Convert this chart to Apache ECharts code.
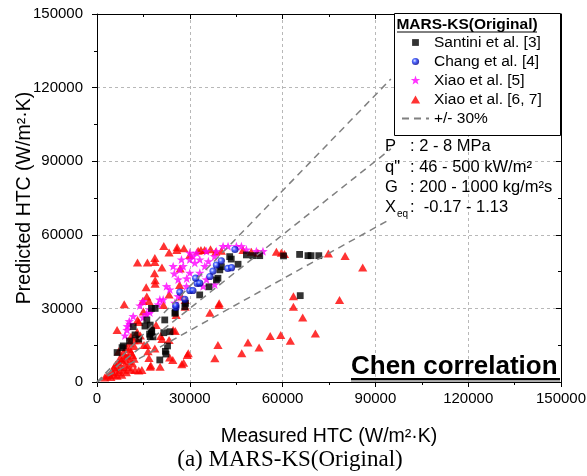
<!DOCTYPE html>
<html><head><meta charset="utf-8">
<script src="https://cdn.jsdelivr.net/npm/echarts@6/dist/echarts.min.js"></script>
<style>html,body{margin:0;padding:0;background:#fff}#c{width:587px;height:476px}</style>
</head><body><div id="c"></div>
<script>
// ---------------- data (W/m2K) ----------------
const santini = [[8500,14700],[8100,14000],[10500,16700],[11700,22550],[15500,22800],[16100,25300],[17600,30000],[17200,23200],[17600,21000],[18100,18400],[17000,19500],[18800,30000],[21900,25300],[21600,20100],[23600,20500],[22800,14700],[22300,11400],[22100,12500],[20300,9000],[25200,28000],[25300,28400],[28600,32050],[28400,30700],[33200,35500],[36200,38800],[38600,41600],[39100,42300],[39700,45700],[40200,47000],[42900,51100],[43400,50100],[45600,48000],[48300,51800],[50400,51500],[52600,51500],[60300,51400],[65500,52000],[68200,51500],[69200,51500],[71700,51500],[65700,35200],[12300,19200],[17200,18500],[17700,20500],[6500,12000],[13500,17500]];
const chang = [[25500,30400],[25500,31200],[26800,36600],[28400,33700],[30000,37300],[31000,37300],[32400,40200],[31900,42300],[33200,40300],[36500,43000],[37500,45200],[38600,47700],[40200,49400],[42300,46300],[43500,46600],[44600,54000]];
const xiao5 = [[9030,18750],[9780,22550],[10420,24580],[9700,21000],[10600,23500],[11700,26600],[13870,30980],[14940,32740],[14900,26100],[16000,27500],[17100,28100],[17100,29300],[19800,31400],[20320,33420],[21400,33400],[22480,38840],[23550,37500],[26230,41580],[26780,45650],[27850,47010],[24620,47010],[27310,49730],[30000,49730],[31610,48370],[33230,49730],[34840,47010],[30000,52450],[32160,52450],[31070,51080],[35390,53110],[38610,53110],[40760,55150],[42370,55150],[45070,55150],[46680,55150],[48290,53800],[51520,53110],[53650,53110],[30000,44300],[33230,44300],[35390,41580],[38060,39540],[34300,38840],[28930,38840],[26230,34770],[25160,32050],[29000,42000],[36000,49000],[38000,51000],[25000,44000]];
const xiao67 = [[21600,55400],[23300,52800],[25900,54900],[28100,54500],[30000,51800],[32700,53500],[34800,53800],[36700,54100],[38400,53100],[40200,53500],[47200,53800],[49900,53100],[52000,52700],[58000,53100],[59600,52700],[60600,52200],[74800,52400],[80200,51400],[85900,46700],[25800,53800],[33600,53800],
[13100,48700],[16300,48700],[18700,48900],[18700,50500],[21000,46700],[18600,44300],[18800,40000],[18800,41500],[15900,38600],[16100,34800],[14800,33000],[16800,33000],[8800,31700],[26900,46300],[26700,39500],[23300,35700],[28500,33400],[21500,31400],[27300,34800],[39500,32100],[36500,28200],[39400,31400],
[6500,21200],[13100,25300],[13500,24500],[15000,28700],[19100,23200],[20600,18700],[21000,17500],[25300,20800],[25600,27300],[24600,21200],[13000,20400],[14000,19000],[13500,17000],[15200,15100],[12000,14700],[10500,13500],[11000,12000],[9000,11000],[7400,9700],[16100,15100],[16500,12500],[16800,9800],[12300,4900],[13500,4700],[14500,4900],[17200,6200],[20400,6200],[24500,9000],[29200,11000],[29500,11700],[27400,7200],[28500,30700],[23300,17100],[18700,13700],[23500,10000],[28000,7800],[17400,6700],[39100,15100],[38100,9700],[48800,16100],[46800,11700],[52400,14100],[56000,18700],[59400,19200],[62500,16800],[63500,30700],[66500,26300],[63500,35000],[78400,33400],[70600,19800],
[2500,1800],[3200,2500],[4000,3000],[4500,2000],[5000,4000],[5500,3000],[6000,5000],[6500,2500],[7000,4000],[7500,6000],[8000,3000],[8500,5000],[9000,7000],[9500,4000],[10000,6000],[10500,8500],[11000,5000],[11500,7500],[12000,9500],[6000,7000],[7000,8000],[8000,9000],[5500,6000],[9000,9500],[8500,12000],[10000,10500],[11500,11000],[7000,12500],[9500,14000],[10500,16000],[11000,18500],[12000,17000]];
const refUpper = [[0,0],[95000,123500]];
const refMid = [[0,0],[95000,95000]];
const refLower = [[0,0],[95000,66500]];
const seriesNames = ['Santini et al. [3]','Chang et al. [4]','Xiao et al. [5]','Xiao et al. [6, 7]','+/- 30%'];
const axisMin = 0, axisMax = 150000, axisStep = 30000;

// ---------------- styling ----------------
const FF = 'Liberation Sans, Arial, sans-serif';
const SQ = 'path://M0 0M10 10M1.6 1.6L8.4 1.6L8.4 8.4L1.6 8.4Z';
const CI = 'path://M0 0M10 10M8.6 5A3.6 3.6 0 1 1 1.4 5A3.6 3.6 0 1 1 8.6 5Z';
const ST = 'path://M0 0M10 10M5 0L6.18 3.38L9.76 3.45L6.9 5.62L7.94 9.05L5 7L2.06 9.05L3.1 5.62L0.24 3.45L3.82 3.38Z';
const TR = 'path://M0 0M10 10M5 1L9.6 9L0.4 9Z';
const sphere = {type:'radial', x:0.42, y:0.42, r:0.42, colorStops:[{offset:0,color:'#dfe6ff'},{offset:0.45,color:'#2040ff'},{offset:1,color:'#000090'}]};
const refLine = {color:'#808080', width:1.5, type:[7,5]};

function mkX(pos, main){
  return {type:'value', min:axisMin, max:axisMax, interval:axisStep, position:pos,
    axisLine:{show:true, onZero:false, lineStyle:{color:'#000', width:1}},
    axisTick:{show:true, inside:!main, length:5, lineStyle:{color:'#000'}},
    minorTick:{show:true, splitNumber:2, length:3, lineStyle:{color:'#000'}},
    axisLabel:{show:main, color:'#000', fontSize:15, fontFamily:FF, margin:9, formatter:function(v){return String(v);}},
    splitLine:{show:main, lineStyle:{color:'#b8b8b8', type:[3,3], width:1}},
    minorSplitLine:{show:false}};
}
const xMain = mkX('bottom', true);
xMain.name = 'Measured HTC (W/m²·K)'; xMain.nameLocation='middle'; xMain.nameGap=45;
xMain.nameMoveOverlap = false;
xMain.nameTextStyle = {color:'#000', fontSize:19.5, fontFamily:FF};
const yMain = mkX('left', true);
yMain.axisLabel.margin = 14;
yMain.name = 'Predicted HTC (W/m²·K)'; yMain.nameLocation='middle'; yMain.nameGap=62;
yMain.nameMoveOverlap = false;
yMain.nameTextStyle = {color:'#000', fontSize:19.5, fontFamily:FF};

const chart = echarts.init(document.getElementById('c'), null, {renderer:'canvas'});
chart.setOption({
  animation:false,
  backgroundColor:'#fff',
  grid:{left:97, right:26, top:14, bottom:94, containLabel:false, outerBoundsMode:'none'},
  xAxis:[xMain, mkX('top', false)],
  yAxis:[yMain, mkX('right', false)],
  legend:{orient:'vertical', left:401, top:33, itemWidth:27, itemHeight:10, itemGap:0, padding:0,
    selectedMode:false, z:10,
    data:[seriesNames[0], seriesNames[1], seriesNames[2], seriesNames[3],
      {name:seriesNames[4], itemStyle:{color:'rgba(0,0,0,0)', borderWidth:0, opacity:0}}],
    textStyle:{color:'#000', fontSize:15.5, fontFamily:FF, lineHeight:19}},
  series:[
    {name:seriesNames[3], type:'scatter', data:xiao67, symbol:TR, symbolSize:10, itemStyle:{color:'#ff0000'}, z:2},
    {name:seriesNames[2], type:'scatter', data:xiao5, symbol:ST, symbolSize:10, itemStyle:{color:'#ff00ff'}, z:2},
    {name:seriesNames[0], type:'scatter', data:santini, symbol:SQ, symbolSize:10, itemStyle:{color:'#000'}, z:2},
    {name:seriesNames[1], type:'scatter', data:chang, symbol:CI, symbolSize:10, itemStyle:{color:sphere}, z:2},
    {name:seriesNames[4], type:'line', data:refUpper, symbol:'none', lineStyle:refLine, itemStyle:{color:'#808080'}, z:3, silent:true},
    {name:seriesNames[4], type:'line', data:refMid, symbol:'none', lineStyle:refLine, itemStyle:{color:'#808080'}, z:3, silent:true},
    {name:seriesNames[4], type:'line', data:refLower, symbol:'none', lineStyle:refLine, itemStyle:{color:'#808080'}, z:3, silent:true}
  ],
  graphic:[
    {type:'rect', z:8, shape:{x:394.5, y:13.5, width:166, height:122}, style:{fill:'#fff', stroke:'#000', lineWidth:1}},
    {type:'text', z:11, x:467, y:25, style:{text:'MARS-KS(Original)', font:'bold 15.5px '+FF, fill:'#000', align:'center', verticalAlign:'middle'}},
    {type:'line', z:11, shape:{x1:397, y1:32, x2:537, y2:32}, style:{stroke:'#000', lineWidth:1}},
    {type:'text', z:11, x:385, y:146, style:{text:'P', font:'16.5px '+FF, fill:'#000', verticalAlign:'middle'}},
    {type:'text', z:11, x:410, y:146, style:{text:': 2 - 8 MPa', font:'16.5px '+FF, fill:'#000', verticalAlign:'middle'}},
    {type:'text', z:11, x:385, y:167, style:{text:'q"', font:'16.5px '+FF, fill:'#000', verticalAlign:'middle'}},
    {type:'text', z:11, x:410, y:167, style:{text:': 46 - 500 kW/m²', font:'16.5px '+FF, fill:'#000', verticalAlign:'middle'}},
    {type:'text', z:11, x:385, y:187, style:{text:'G', font:'16.5px '+FF, fill:'#000', verticalAlign:'middle'}},
    {type:'text', z:11, x:410, y:187, style:{text:': 200 - 1000 kg/m²s', font:'16.5px '+FF, fill:'#000', verticalAlign:'middle'}},
    {type:'text', z:11, x:385, y:207, style:{text:'X', font:'16.5px '+FF, fill:'#000', verticalAlign:'middle'}},
    {type:'text', z:11, x:397, y:214, style:{text:'eq', font:'10px '+FF, fill:'#000', verticalAlign:'middle'}},
    {type:'text', z:11, x:410, y:207, style:{text:':  -0.17 - 1.13', font:'16.5px '+FF, fill:'#000', verticalAlign:'middle'}},
    {type:'text', z:11, x:351, y:367, style:{text:'Chen correlation', font:'bold 26px '+FF, fill:'#000', verticalAlign:'middle'}},
    {type:'rect', z:11, shape:{x:351, y:378, width:209, height:2.2}, style:{fill:'#000'}},
    {type:'rect', z:11, shape:{x:351, y:380.3, width:209, height:1.5}, style:{fill:'#999'}},
    {type:'text', z:11, x:290, y:460, style:{text:'(a) MARS-KS(Original)', font:'23px Liberation Serif, Times New Roman, serif', fill:'#000', align:'center', verticalAlign:'middle'}}
  ]
});
</script></body></html>
